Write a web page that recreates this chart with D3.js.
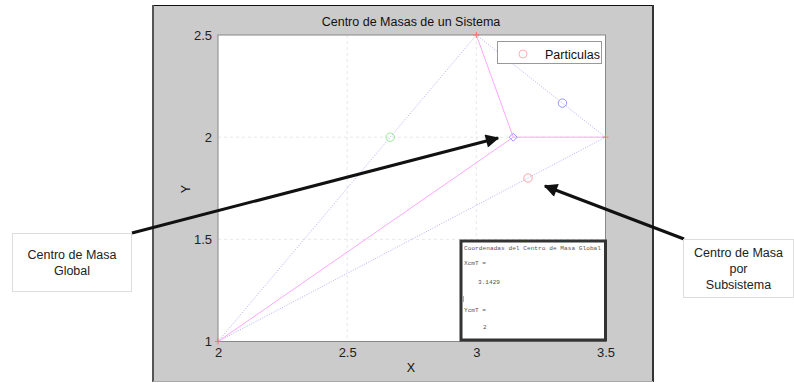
<!DOCTYPE html>
<html>
<head>
<meta charset="utf-8">
<script src="https://cdn.jsdelivr.net/npm/d3@7"></script>
<style>
  body { margin: 0; background: #fff; }
  svg { display: block; font-family: "Liberation Sans", Arial, sans-serif; }
</style>
</head>
<body>
<svg></svg>
<script>
// DATA

let particlesX = [2, 3, 3.5];
let particlesY = [1, 2.5, 2];
let particleMasses = [1, 2, 4];

// centros de masa por subsistema (pares de particulas)
let subPairs = [[0, 1], [1, 2], [0, 2]];
let subCmX = [2.6667, 3.3333, 3.2];
let subCmY = [2, 2.1667, 1.8];
let subCmColors = ["#88e888", "#8888ff", "#ff9999"];

let globalCmX = 3.1429;
let globalCmY = 2;

let xTicks = [2, 2.5, 3, 3.5];
let yTicks = [1, 1.5, 2, 2.5];

// PAGE SETUP

let W = 794, H = 383;
let svg = d3.select("svg").attr("width", W).attr("height", H);

// figure panel
svg.append("rect").attr("x", 153).attr("y", 5).attr("width", 500).attr("height", 377)
  .attr("fill", "#cbcbcb").attr("stroke", "none");
svg.append("line").attr("x1", 152.5).attr("x2", 653).attr("y1", 5.5).attr("y2", 5.5).attr("stroke", "#111");
svg.append("line").attr("x1", 153).attr("x2", 153).attr("y1", 5).attr("y2", 382).attr("stroke", "#555").attr("stroke-width", 2);
svg.append("line").attr("x1", 653).attr("x2", 653).attr("y1", 5).attr("y2", 382).attr("stroke", "#333").attr("stroke-width", 2);
svg.append("line").attr("x1", 153).attr("x2", 653).attr("y1", 381.5).attr("y2", 381.5).attr("stroke", "#aaa");

let plot = {left: 218, top: 35, right: 605.5, bottom: 341.5};

let x = d3.scaleLinear().domain([2, 3.5]).range([plot.left, plot.right]);
let y = d3.scaleLinear().domain([1, 2.5]).range([plot.bottom, plot.top]);

svg.append("rect").attr("x", plot.left).attr("y", plot.top)
  .attr("width", plot.right - plot.left).attr("height", plot.bottom - plot.top)
  .attr("fill", "#fff");

// grid
svg.append("g").selectAll("line").data(xTicks.slice(1, -1)).enter().append("line")
  .attr("x1", d => x(d)).attr("x2", d => x(d)).attr("y1", plot.top).attr("y2", plot.bottom)
  .attr("stroke", "#e2e2e2").attr("stroke-width", 0.8).attr("stroke-dasharray", "3,3");
svg.append("g").selectAll("line").data(yTicks.slice(1, -1)).enter().append("line")
  .attr("x1", plot.left).attr("x2", plot.right).attr("y1", d => y(d)).attr("y2", d => y(d))
  .attr("stroke", "#e2e2e2").attr("stroke-width", 0.8).attr("stroke-dasharray", "3,3");

// axes
let xAxis = svg.append("g").attr("transform", `translate(0,${plot.bottom})`)
  .call(d3.axisBottom(x).tickValues(xTicks).tickFormat(d3.format("")).tickSize(0).tickPadding(6));
let yAxis = svg.append("g").attr("transform", `translate(${plot.left},0)`)
  .call(d3.axisLeft(y).tickValues(yTicks).tickFormat(d3.format("")).tickSize(0).tickPadding(6));
[xAxis, yAxis].forEach(a => {
  a.select(".domain").remove();
  a.selectAll("text").attr("font-size", 13).attr("fill", "#222")
    .attr("font-family", "Liberation Sans, Arial, sans-serif");
});

// frame
svg.append("rect").attr("x", plot.left).attr("y", plot.top)
  .attr("width", plot.right - plot.left).attr("height", plot.bottom - plot.top)
  .attr("fill", "none").attr("stroke", "#888").attr("stroke-width", 1);

// subsystem lines (dotted blue)
svg.append("g").selectAll("line").data(subPairs).enter().append("line")
  .attr("x1", d => x(particlesX[d[0]])).attr("y1", d => y(particlesY[d[0]]))
  .attr("x2", d => x(particlesX[d[1]])).attr("y2", d => y(particlesY[d[1]]))
  .attr("stroke", "#a8a8ff").attr("stroke-width", 0.9).attr("stroke-dasharray", "1,1.5");

// lines to global center (pink)
svg.append("g").selectAll("line").data(particlesX).enter().append("line")
  .attr("x1", (d, i) => x(d)).attr("y1", (d, i) => y(particlesY[i]))
  .attr("x2", x(globalCmX)).attr("y2", y(globalCmY))
  .attr("stroke", "#ffa6ff").attr("stroke-width", 1);

// subsystem centers
svg.append("g").selectAll("circle").data(subCmX).enter().append("circle")
  .attr("cx", d => x(d)).attr("cy", (d, i) => y(subCmY[i])).attr("r", 4.2)
  .attr("fill", "none").attr("stroke", (d, i) => subCmColors[i]).attr("stroke-width", 0.9);

// global center diamond
let gx = x(globalCmX), gy = y(globalCmY);
svg.append("path")
  .attr("d", `M${gx},${gy - 4}L${gx + 4},${gy}L${gx},${gy + 4}L${gx - 4},${gy}Z`)
  .attr("fill", "none").attr("stroke", "#8888ff").attr("stroke-width", 0.9);

// particles (+)
let plus = svg.append("g").selectAll("g").data(particlesX).enter().append("g")
  .attr("transform", (d, i) => `translate(${x(d)},${y(particlesY[i])})`);
plus.append("line").attr("x1", -3).attr("x2", 3).attr("stroke", "#ff6a6a").attr("stroke-width", 0.9);
plus.append("line").attr("y1", -3).attr("y2", 3).attr("stroke", "#ff6a6a").attr("stroke-width", 0.9);

// title and labels
svg.append("text").attr("x", 411).attr("y", 26).attr("text-anchor", "middle")
  .attr("font-size", 12.5).attr("fill", "#111").text("Centro de Masas de un Sistema");
svg.append("text").attr("x", 411).attr("y", 372).attr("text-anchor", "middle")
  .attr("font-size", 12.5).attr("fill", "#111").text("X");
svg.append("text").attr("transform", "translate(190,189) rotate(-90)").attr("text-anchor", "middle")
  .attr("font-size", 12.5).attr("fill", "#111").text("Y");

// legend
svg.append("rect").attr("x", 497.5).attr("y", 41.5).attr("width", 104).attr("height", 22)
  .attr("fill", "#fff").attr("stroke", "#999");
svg.append("circle").attr("cx", 523).attr("cy", 54).attr("r", 4)
  .attr("fill", "none").attr("stroke", "#ffaaaa").attr("stroke-width", 0.9);
svg.append("text").attr("x", 545).attr("y", 58.5).attr("font-size", 12.5).attr("fill", "#111").text("Particulas");

// text box with global center coordinates
svg.append("rect").attr("x", 461).attr("y", 241).attr("width", 144.5).attr("height", 99)
  .attr("fill", "#fff").attr("stroke", "#333").attr("stroke-width", 3);
let mono = svg.append("g").attr("font-family", "Liberation Mono, Courier New, monospace")
  .attr("font-size", 6.1).attr("fill", "#555");
mono.append("text").attr("x", 464).attr("y", 250).attr("textLength", 137).text("Coordenadas del Centro de Masa Global");
mono.append("text").attr("x", 464).attr("y", 265).text("XcmT =");
mono.append("text").attr("x", 478).attr("y", 284).text(d3.format(".4f")(globalCmX));
mono.append("text").attr("x", 464).attr("y", 312).text("YcmT =");
mono.append("text").attr("x", 483).attr("y", 329).text(globalCmY);
svg.append("line").attr("x1", 463.5).attr("x2", 463.5).attr("y1", 296).attr("y2", 302)
  .attr("stroke", "#999").attr("stroke-width", 0.8);

// annotations
svg.append("defs").append("marker").attr("id", "arrow").attr("viewBox", "0 0 10 10")
  .attr("refX", 9).attr("refY", 5).attr("markerWidth", 5.5).attr("markerHeight", 4.5)
  .attr("markerUnits", "strokeWidth").attr("orient", "auto")
  .append("path").attr("d", "M0,0L10,5L0,10Z").attr("fill", "#111");

function callout(bx, by, bw, bh, lines, from, to) {
  svg.append("line").attr("x1", from[0]).attr("y1", from[1]).attr("x2", to[0]).attr("y2", to[1])
    .attr("stroke", "#111").attr("stroke-width", 3).attr("marker-end", "url(#arrow)");
  svg.append("rect").attr("x", bx).attr("y", by).attr("width", bw).attr("height", bh)
    .attr("fill", "#fff").attr("stroke", "#ddd");
  let cy = by + bh / 2 - (lines.length - 1) * 8;
  lines.forEach((t, i) => {
    svg.append("text").attr("x", bx + bw / 2).attr("y", cy + i * 16 + 4.5)
      .attr("text-anchor", "middle").attr("font-size", 12.5).attr("fill", "#222").text(t);
  });
}

callout(12.5, 233.5, 119, 58, ["Centro de Masa", "Global"], [132, 233], [498, 138]);
callout(683.5, 239.5, 110, 58, ["Centro de Masa", "por", "Subsistema"], [684, 239], [545, 186]);
</script>
</body>
</html>
